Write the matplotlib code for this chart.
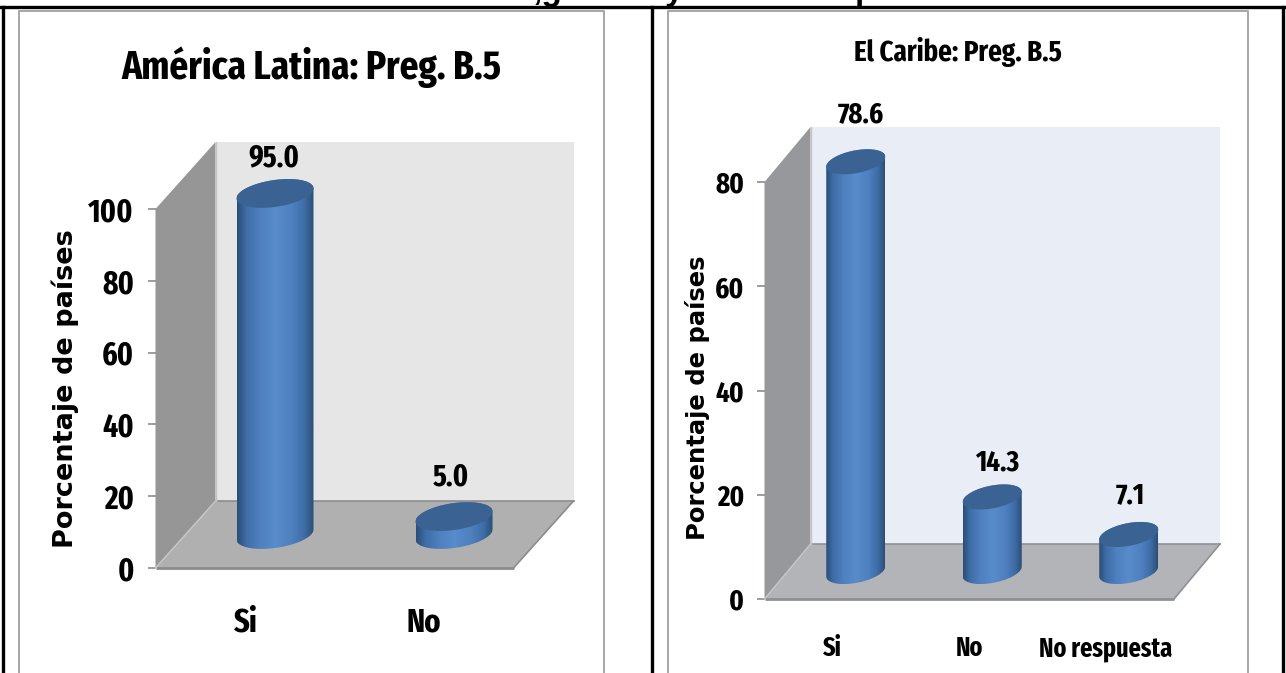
import numpy as np
import matplotlib
matplotlib.use('Agg')
import matplotlib.pyplot as plt
from matplotlib.patches import Polygon
from matplotlib.colors import LinearSegmentedColormap

W, H = 1286, 673

cats_la = ['Si', 'No']
vals_la = [95.0, 5.0]
ticks_la = [0, 20, 40, 60, 80, 100]

cats_ca = ['Si', 'No', 'No respuesta']
vals_ca = [78.6, 14.3, 7.1]
ticks_ca = [0, 20, 40, 60, 80]

narrow = ['Fira Sans Extra Condensed', 'Liberation Sans']

cyl = LinearSegmentedColormap.from_list('cyl', [
    (0.0, '#2b4f78'), (0.12, '#3f6ea8'), (0.3, '#4f80bf'), (0.5, '#588ccb'),
    (0.72, '#4f80bf'), (0.88, '#3f6ea8'), (1.0, '#2c4f78')])

fig = plt.figure(figsize=(W / 100, H / 100), dpi=100, facecolor='white')


def make_axes(left, right, top, bottom):
    ax = fig.add_axes([left / W, 1 - bottom / H, (right - left) / W, (bottom - top) / H])
    ax.patch.set_visible(False)
    for s in ax.spines.values():
        s.set_visible(False)
    return ax


def draw_panel(rect, depth, cats, vals, ticks, wall, back, floor, edge,
               tick_size, tick_pad, cat_size, cat_pad, label_size, label_off,
               ylab_size, ylab_xy, bar_half, ell_b, ell_c):
    left, right, top, bottom = rect
    ax = make_axes(left, right, top, bottom)
    n = len(cats)
    ymax = ticks[-1]
    sx = n / (right - left)         # data per pixel
    sy = ymax / (bottom - top)
    dx, dy = depth[0] * sx, depth[1] * sy

    # walls and floor
    ax.fill([dx, n + dx, n + dx, dx], [dy, dy, ymax + dy, ymax + dy], color=back, lw=0, clip_on=False, zorder=1)
    ax.fill([0, dx, dx, 0], [0, dy, ymax + dy, ymax], color=wall, lw=0, clip_on=False, zorder=1)
    ax.fill([0, n, n + dx, dx], [0, 0, dy, dy], color=floor, lw=0, clip_on=False, zorder=2)
    ax.plot([0, n], [0, 0], color=edge, lw=2, clip_on=False, zorder=3, solid_capstyle='butt')
    ax.plot([dx, n + dx], [dy, dy], color=edge, lw=1.2, clip_on=False, zorder=3)
    ax.plot([n, n + dx], [0, dy], color=edge, lw=1.2, clip_on=False, zorder=3)
    ax.plot([dx, dx], [dy, ymax + dy], color='#c4c4c4', lw=1, clip_on=False, zorder=3)
    ax.plot([0, dx], [0, dy], color='#c8c8c8', lw=1, clip_on=False, zorder=3)

    # cylinders
    t = np.linspace(0, 2 * np.pi, 121)
    for i, v in enumerate(vals):
        cx = i + 0.5 + dx / 2
        base = dy / 2
        ex = bar_half * sx * np.cos(t)
        ey = (ell_b * np.sin(t) + ell_c * np.cos(t)) * sy
        low = t[(t >= np.pi)]
        bx = cx + bar_half * sx * np.cos(low)
        by = base + (ell_b * np.sin(low) + ell_c * np.cos(low)) * sy
        hi = t[(t <= np.pi)]
        tx = cx + bar_half * sx * np.cos(hi)
        ty = base + v + (ell_b * np.sin(hi) + ell_c * np.cos(hi)) * sy
        body = Polygon(np.column_stack([np.r_[bx, tx], np.r_[by, ty]]), closed=True,
                       transform=ax.transData)
        im = ax.imshow(np.linspace(0, 1, 64)[None, :], cmap=cyl, aspect='auto', zorder=4,
                       extent=[cx - bar_half * sx, cx + bar_half * sx, base - 30 * sy, base + v + 30 * sy],
                       interpolation='bilinear')
        im.set_clip_path(body)
        im.set_clip_box(fig.bbox)
        ax.fill(cx + ex, base + v + ey, color='#3a6393', lw=0, clip_on=False, zorder=5)
        ax.annotate(f'{v:.1f}', (cx, base + v), xytext=label_off[i], textcoords='offset pixels',
                    ha='center', va='center', family=narrow, weight='bold',
                    fontsize=label_size, color='black', zorder=6, annotation_clip=False)

    ax.set_xlim(0, n)
    ax.set_ylim(0, ymax)
    ax.set_xticks(np.arange(n) + 0.5)
    ax.set_xticklabels(cats, family=narrow, weight='bold', fontsize=cat_size)
    ax.tick_params(axis='x', length=0, pad=cat_pad)
    ax.set_yticks(ticks)
    ax.set_yticklabels([str(k) for k in ticks], family=narrow, weight='bold', fontsize=tick_size)
    ax.tick_params(axis='y', length=5.5, width=1.2, color='#8c8c8c', pad=tick_pad)
    ax.set_ylabel('Porcentaje de países', family='DejaVu Sans', weight='bold', fontsize=ylab_size)
    ax.yaxis.set_label_coords(*ylab_xy)
    return ax


draw_panel((155.5, 513.5, 209, 568), (60, 67), cats_la, vals_la, ticks_la,
           '#969696', '#e6e6e6', '#b0b0b0', '#8c8c8c',
           tick_size=23, tick_pad=10, cat_size=24, cat_pad=28, label_size=22,
           label_off=[(-1, 35), (-3, 39)], ylab_size=19.5, ylab_xy=(-0.214, 0.5),
           bar_half=38.5, ell_b=13.5, ell_c=5)

draw_panel((764.5, 1174, 182, 599), (46, 55), cats_ca, vals_ca, ticks_ca,
           '#96989c', '#e9edf6', '#b2b4b8', '#8e9094',
           tick_size=21, tick_pad=9, cat_size=19, cat_pad=26, label_size=21,
           label_off=[(5, 47), (5, 34), (2, 39)], ylab_size=17.5, ylab_xy=(-0.133, 0.483),
           bar_half=29.5, ell_b=11.5, ell_c=5)

# page table lines and chart frames, in pixels
page = fig.add_axes([0, 0, 1, 1], zorder=-1)
page.set_xlim(0, W)
page.set_ylim(H, 0)
page.axis('off')
for x0, x1 in [(18.5, 604), (668, 1247.5)]:
    page.plot([x0, x0, x1, x1], [H + 2, 11, 11, H + 2], color='#a6a6a6', lw=1.4)

over = fig.add_axes([0, 0, 1, 1], zorder=5)
over.set_xlim(0, W)
over.set_ylim(H, 0)
over.axis('off')
over.plot([0, W], [7, 7], color='black', lw=2.4)
for x in [3, 651.5, 1283]:
    over.plot([x, x], [7, H], color='black', lw=2.4)

# cut-off heading above the table, only the descenders show
for x, s in [(533, ',g'), (665, 'y'), (855, 'p')]:
    fig.text(x / W, 1 - 0 / H, s, family='Liberation Sans', weight='bold', fontsize=24,
             ha='left', va='baseline', color='black')

fig.text(311 / W, 1 - 67 / H, 'América Latina: Preg. B.5', family=narrow, weight='bold',
         fontsize=29, ha='center', va='center')
fig.text(957.5 / W, 1 - 52 / H, 'El Caribe: Preg. B.5', family=narrow, weight='bold',
         fontsize=21, ha='center', va='center')

plt.savefig('out.png', dpi=100)
